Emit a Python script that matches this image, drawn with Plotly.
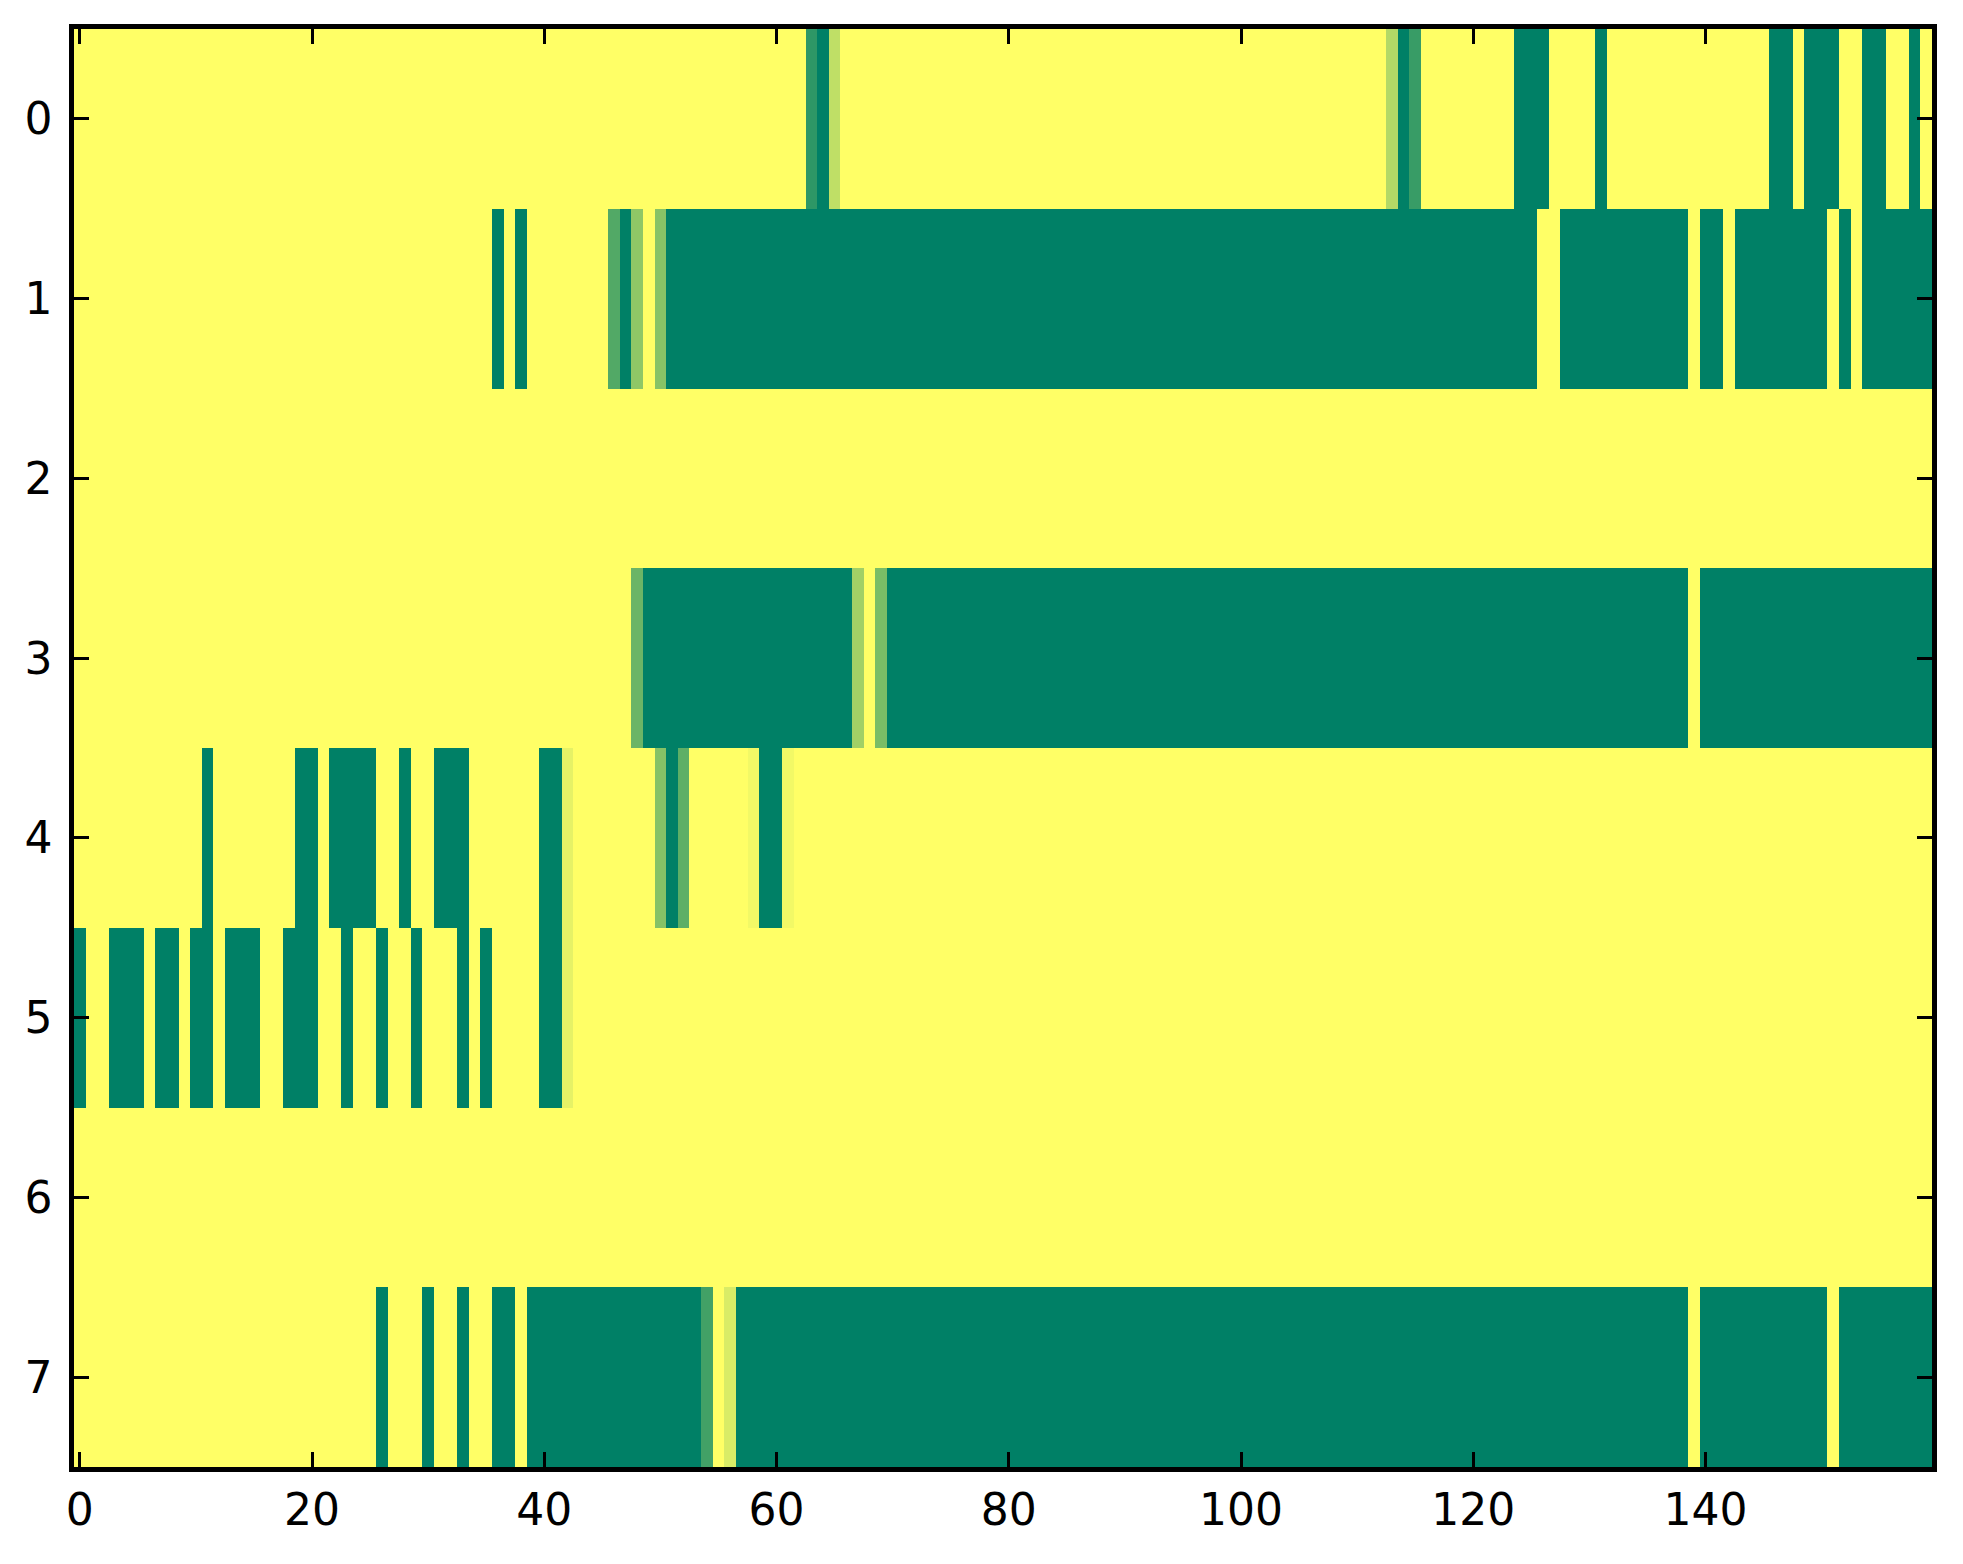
import plotly.graph_objects as go

# column indices (x) and row indices (y)
cols = list(range(160))
rows = list(range(8))
x_ticks = [0, 20, 40, 60, 80, 100, 120, 140]
y_ticks = [0, 1, 2, 3, 4, 5, 6, 7]

row0 = [1, 1, 1, 1, 1, 1, 1, 1, 1, 1, 1, 1, 1, 1, 1, 1, 1, 1, 1, 1,
        1, 1, 1, 1, 1, 1, 1, 1, 1, 1, 1, 1, 1, 1, 1, 1, 1, 1, 1, 1,
        1, 1, 1, 1, 1, 1, 1, 1, 1, 1, 1, 1, 1, 1, 1, 1, 1, 1, 1, 1,
        1, 1, 1, 0.18, 0, 0.75, 1, 1, 1, 1, 1, 1, 1, 1, 1, 1, 1, 1, 1, 1,
        1, 1, 1, 1, 1, 1, 1, 1, 1, 1, 1, 1, 1, 1, 1, 1, 1, 1, 1, 1,
        1, 1, 1, 1, 1, 1, 1, 1, 1, 1, 1, 1, 1, 0.7, 0, 0.22, 1, 1, 1, 1,
        1, 1, 1, 1, 0, 0, 0, 1, 1, 1, 1, 0, 1, 1, 1, 1, 1, 1, 1, 1,
        1, 1, 1, 1, 1, 1, 0, 0, 1, 0, 0, 0, 1, 1, 0, 0, 1, 1, 0, 1]

row1 = [1, 1, 1, 1, 1, 1, 1, 1, 1, 1, 1, 1, 1, 1, 1, 1, 1, 1, 1, 1,
        1, 1, 1, 1, 1, 1, 1, 1, 1, 1, 1, 1, 1, 1, 1, 1, 0, 1, 0, 1,
        1, 1, 1, 1, 1, 1, 0.32, 0, 0.56, 1, 0.53, 0, 0, 0, 0, 0, 0, 0, 0, 0,
        0, 0, 0, 0, 0, 0, 0, 0, 0, 0, 0, 0, 0, 0, 0, 0, 0, 0, 0, 0,
        0, 0, 0, 0, 0, 0, 0, 0, 0, 0, 0, 0, 0, 0, 0, 0, 0, 0, 0, 0,
        0, 0, 0, 0, 0, 0, 0, 0, 0, 0, 0, 0, 0, 0, 0, 0, 0, 0, 0, 0,
        0, 0, 0, 0, 0, 0, 1, 1, 0, 0, 0, 0, 0, 0, 0, 0, 0, 0, 0, 1,
        0, 0, 1, 0, 0, 0, 0, 0, 0, 0, 0, 1, 0, 1, 0, 0, 0, 0, 0, 0]

row2 = [1, 1, 1, 1, 1, 1, 1, 1, 1, 1, 1, 1, 1, 1, 1, 1, 1, 1, 1, 1,
        1, 1, 1, 1, 1, 1, 1, 1, 1, 1, 1, 1, 1, 1, 1, 1, 1, 1, 1, 1,
        1, 1, 1, 1, 1, 1, 1, 1, 1, 1, 1, 1, 1, 1, 1, 1, 1, 1, 1, 1,
        1, 1, 1, 1, 1, 1, 1, 1, 1, 1, 1, 1, 1, 1, 1, 1, 1, 1, 1, 1,
        1, 1, 1, 1, 1, 1, 1, 1, 1, 1, 1, 1, 1, 1, 1, 1, 1, 1, 1, 1,
        1, 1, 1, 1, 1, 1, 1, 1, 1, 1, 1, 1, 1, 1, 1, 1, 1, 1, 1, 1,
        1, 1, 1, 1, 1, 1, 1, 1, 1, 1, 1, 1, 1, 1, 1, 1, 1, 1, 1, 1,
        1, 1, 1, 1, 1, 1, 1, 1, 1, 1, 1, 1, 1, 1, 1, 1, 1, 1, 1, 1]

row3 = [1, 1, 1, 1, 1, 1, 1, 1, 1, 1, 1, 1, 1, 1, 1, 1, 1, 1, 1, 1,
        1, 1, 1, 1, 1, 1, 1, 1, 1, 1, 1, 1, 1, 1, 1, 1, 1, 1, 1, 1,
        1, 1, 1, 1, 1, 1, 1, 1, 0.42, 0, 0, 0, 0, 0, 0, 0, 0, 0, 0, 0,
        0, 0, 0, 0, 0, 0, 0, 0.63, 1, 0.48, 0, 0, 0, 0, 0, 0, 0, 0, 0, 0,
        0, 0, 0, 0, 0, 0, 0, 0, 0, 0, 0, 0, 0, 0, 0, 0, 0, 0, 0, 0,
        0, 0, 0, 0, 0, 0, 0, 0, 0, 0, 0, 0, 0, 0, 0, 0, 0, 0, 0, 0,
        0, 0, 0, 0, 0, 0, 0, 0, 0, 0, 0, 0, 0, 0, 0, 0, 0, 0, 0, 1,
        0, 0, 0, 0, 0, 0, 0, 0, 0, 0, 0, 0, 0, 0, 0, 0, 0, 0, 0, 0]

row4 = [1, 1, 1, 1, 1, 1, 1, 1, 1, 1, 1, 0, 1, 1, 1, 1, 1, 1, 1, 0,
        0, 1, 0, 0, 0, 0, 1, 1, 0, 1, 1, 0, 0, 0, 1, 1, 1, 1, 1, 1,
        0, 0, 0.9, 1, 1, 1, 1, 1, 1, 1, 0.52, 0, 0.37, 1, 1, 1, 1, 1, 0.95, 0,
        0, 0.95, 1, 1, 1, 1, 1, 1, 1, 1, 1, 1, 1, 1, 1, 1, 1, 1, 1, 1,
        1, 1, 1, 1, 1, 1, 1, 1, 1, 1, 1, 1, 1, 1, 1, 1, 1, 1, 1, 1,
        1, 1, 1, 1, 1, 1, 1, 1, 1, 1, 1, 1, 1, 1, 1, 1, 1, 1, 1, 1,
        1, 1, 1, 1, 1, 1, 1, 1, 1, 1, 1, 1, 1, 1, 1, 1, 1, 1, 1, 1,
        1, 1, 1, 1, 1, 1, 1, 1, 1, 1, 1, 1, 1, 1, 1, 1, 1, 1, 1, 1]

row5 = [0, 1, 1, 0, 0, 0, 1, 0, 0, 1, 0, 0, 1, 0, 0, 0, 1, 1, 0, 0,
        0, 1, 1, 0, 1, 1, 0, 1, 1, 0, 1, 1, 1, 0, 1, 0, 1, 1, 1, 1,
        0, 0, 0.9, 1, 1, 1, 1, 1, 1, 1, 1, 1, 1, 1, 1, 1, 1, 1, 1, 1,
        1, 1, 1, 1, 1, 1, 1, 1, 1, 1, 1, 1, 1, 1, 1, 1, 1, 1, 1, 1,
        1, 1, 1, 1, 1, 1, 1, 1, 1, 1, 1, 1, 1, 1, 1, 1, 1, 1, 1, 1,
        1, 1, 1, 1, 1, 1, 1, 1, 1, 1, 1, 1, 1, 1, 1, 1, 1, 1, 1, 1,
        1, 1, 1, 1, 1, 1, 1, 1, 1, 1, 1, 1, 1, 1, 1, 1, 1, 1, 1, 1,
        1, 1, 1, 1, 1, 1, 1, 1, 1, 1, 1, 1, 1, 1, 1, 1, 1, 1, 1, 1]

row6 = [1, 1, 1, 1, 1, 1, 1, 1, 1, 1, 1, 1, 1, 1, 1, 1, 1, 1, 1, 1,
        1, 1, 1, 1, 1, 1, 1, 1, 1, 1, 1, 1, 1, 1, 1, 1, 1, 1, 1, 1,
        1, 1, 1, 1, 1, 1, 1, 1, 1, 1, 1, 1, 1, 1, 1, 1, 1, 1, 1, 1,
        1, 1, 1, 1, 1, 1, 1, 1, 1, 1, 1, 1, 1, 1, 1, 1, 1, 1, 1, 1,
        1, 1, 1, 1, 1, 1, 1, 1, 1, 1, 1, 1, 1, 1, 1, 1, 1, 1, 1, 1,
        1, 1, 1, 1, 1, 1, 1, 1, 1, 1, 1, 1, 1, 1, 1, 1, 1, 1, 1, 1,
        1, 1, 1, 1, 1, 1, 1, 1, 1, 1, 1, 1, 1, 1, 1, 1, 1, 1, 1, 1,
        1, 1, 1, 1, 1, 1, 1, 1, 1, 1, 1, 1, 1, 1, 1, 1, 1, 1, 1, 1]

row7 = [1, 1, 1, 1, 1, 1, 1, 1, 1, 1, 1, 1, 1, 1, 1, 1, 1, 1, 1, 1,
        1, 1, 1, 1, 1, 1, 0, 1, 1, 1, 0, 1, 1, 0, 1, 1, 0, 0, 1, 0,
        0, 0, 0, 0, 0, 0, 0, 0, 0, 0, 0, 0, 0, 0, 0.26, 1, 0.85, 0, 0, 0,
        0, 0, 0, 0, 0, 0, 0, 0, 0, 0, 0, 0, 0, 0, 0, 0, 0, 0, 0, 0,
        0, 0, 0, 0, 0, 0, 0, 0, 0, 0, 0, 0, 0, 0, 0, 0, 0, 0, 0, 0,
        0, 0, 0, 0, 0, 0, 0, 0, 0, 0, 0, 0, 0, 0, 0, 0, 0, 0, 0, 0,
        0, 0, 0, 0, 0, 0, 0, 0, 0, 0, 0, 0, 0, 0, 0, 0, 0, 0, 0, 1,
        0, 0, 0, 0, 0, 0, 0, 0, 0, 0, 0, 1, 0, 0, 0, 0, 0, 0, 0, 0]

z = [row0, row1, row2, row3, row4, row5, row6, row7]

# matplotlib "summer" colormap
summer = [[0.0, "rgb(0,128,102)"], [1.0, "rgb(255,255,102)"]]

fig = go.Figure(
    go.Heatmap(
        z=z, x=cols, y=rows,
        colorscale=summer, zmin=0, zmax=1,
        showscale=False, hoverongaps=False,
    )
)

axis_common = dict(
    showline=True, linecolor="black", linewidth=4.5,
    mirror="allticks", ticks="inside", ticklen=15, tickwidth=2.5,
    tickcolor="black", showgrid=False, zeroline=False,
    tickfont=dict(family="DejaVu Sans", size=44, color="black"),
)

fig.update_xaxes(
    range=[-0.5, 159.5], tickmode="array", tickvals=x_ticks,
    ticktext=[str(v) for v in x_ticks], **axis_common,
)
fig.update_yaxes(
    range=[7.5, -0.5], tickmode="array", tickvals=y_ticks,
    ticktext=[str(v) for v in y_ticks], ticklabelstandoff=8, **axis_common,
)

fig.update_layout(
    width=1963, height=1564,
    margin=dict(l=74, r=31, t=29, b=97),
    paper_bgcolor="white", plot_bgcolor="white",
    font=dict(family="DejaVu Sans"),
)

fig.write_html(
    "out.html",
    config={"displayModeBar": False},
    post_script="document.body.style.margin='0';",
)
